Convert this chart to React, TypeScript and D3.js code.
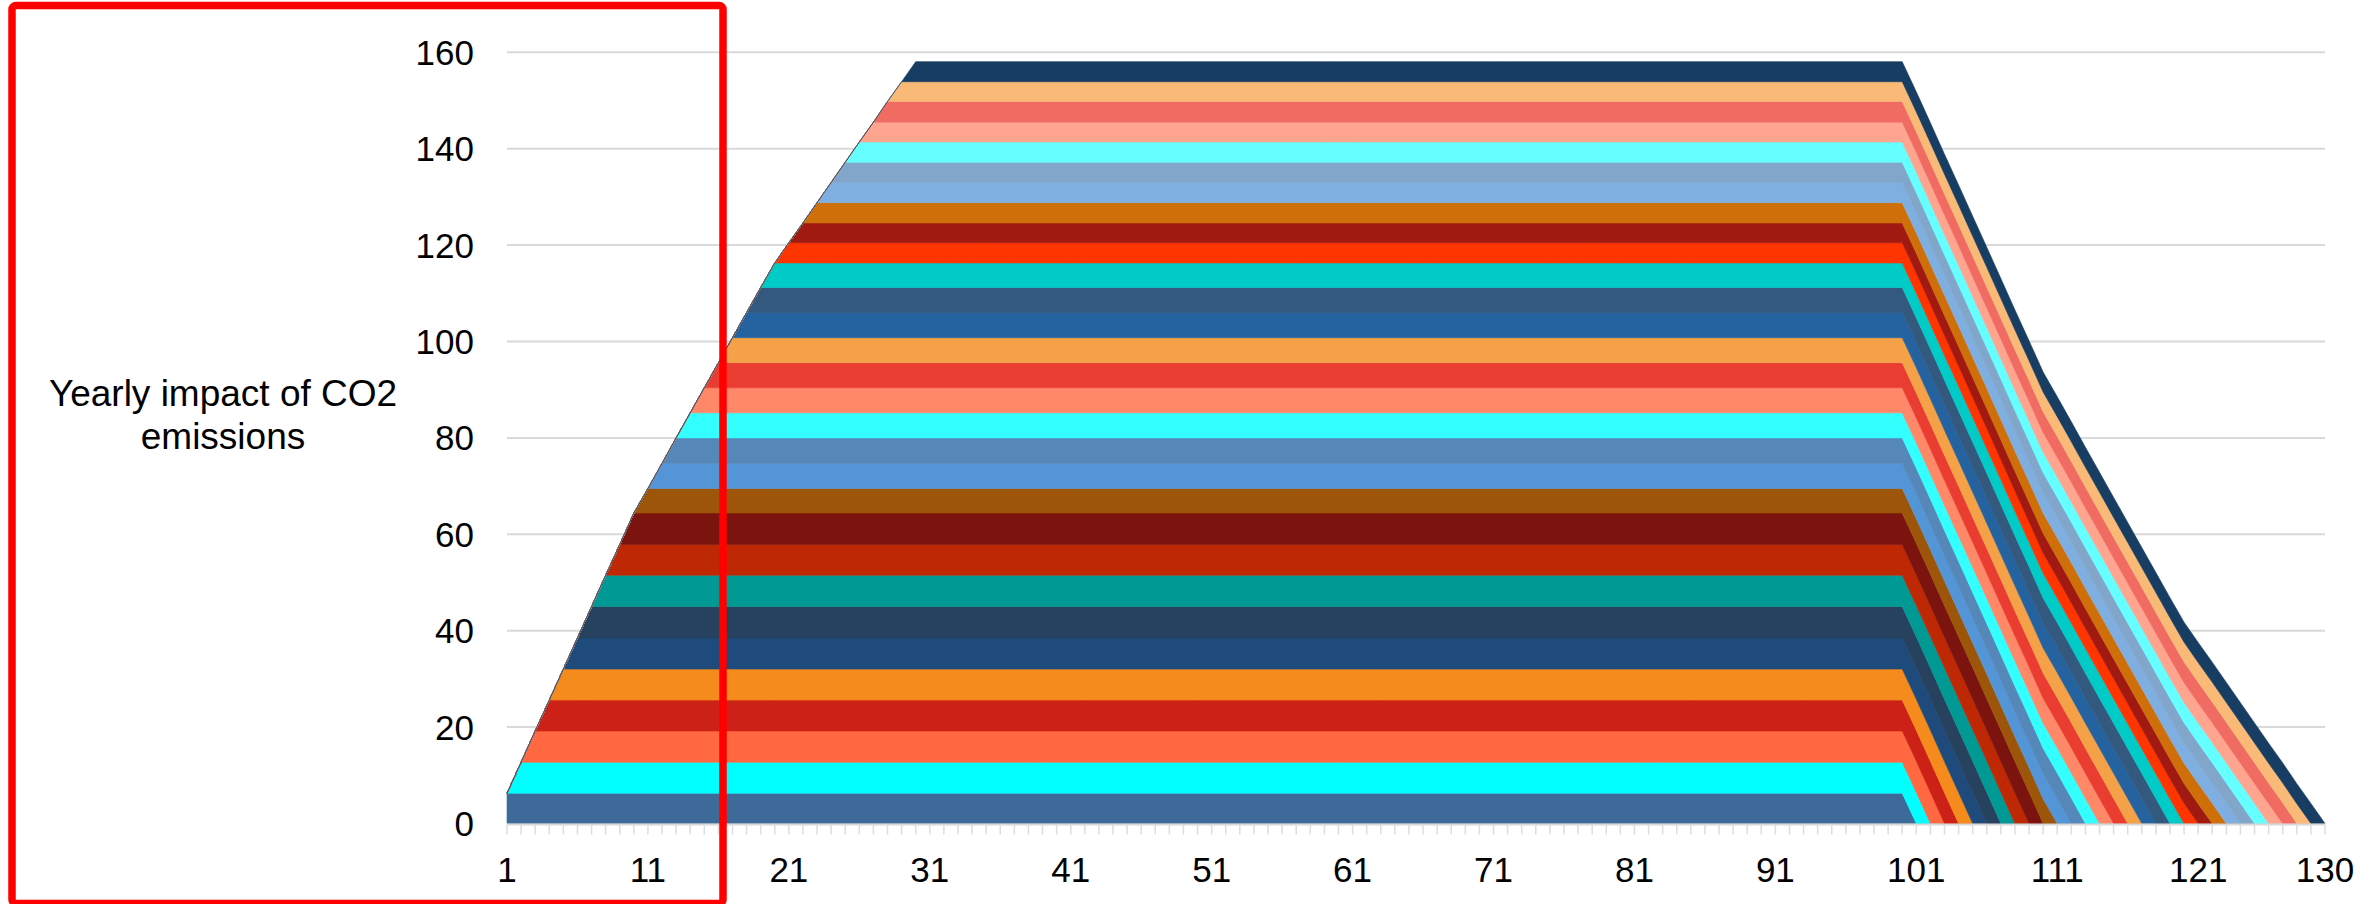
import React from "react";
import * as d3 from "d3";

// ---- data ----
const categories: number[] = d3.range(1, 131); // 1..130
const xTickLabels: number[] = [1, 11, 21, 31, 41, 51, 61, 71, 81, 91, 101, 111, 121, 130];
const yTicks: number[] = [0, 20, 40, 60, 80, 100, 120, 140, 160];

// each series: yearly value, first category with value, last category with value
const seriesValue: number[] = [
  6.27, 6.43, 6.5, 6.4, 6.45, 6.45, 6.5, 6.5, 6.4, 6.5,
  5.1, 5.2, 5.3, 5.2, 5.2, 5.2, 5.2, 5.2, 5.2, 5.1,
  4.2, 4.1, 4.2, 4.2, 4.2, 4.2, 4.1, 4.3, 4.1, 4.16,
];
const seriesStart: number[] = [
  1, 2, 3, 4, 5, 6, 7, 8, 9, 10, 11, 12, 13, 14, 15,
  16, 17, 18, 19, 20, 21, 22, 23, 24, 25, 26, 27, 28, 29, 30,
];
const seriesEnd: number[] = [
  100, 101, 102, 103, 104, 105, 106, 107, 108, 109, 110, 111, 112, 113, 114,
  115, 116, 117, 118, 119, 120, 121, 122, 123, 124, 125, 126, 127, 128, 129,
];
const seriesColors: string[] = [
  "#3D6A99", "#00FFFF", "#FF6841", "#CC2116", "#F58B1C",
  "#1E4B7B", "#26425F", "#009994", "#BE2804", "#7B130E",
  "#9C5509", "#5395D7", "#5588B9", "#33FFFF", "#FF8869",
  "#EA3D31", "#F5A148", "#2563A0", "#33597E", "#00CBC7",
  "#FF3500", "#A11A12", "#CF6F0A", "#7FAFE0", "#81A6CA",
  "#66FFFF", "#FFA48F", "#F06C63", "#F9BA77", "#183D63",
];
const yTitle: string[] = ["Yearly impact of CO2", "emissions"];

const W = 2369;
const H = 904;
const FONT = "'Liberation Sans', Arial, Helvetica, sans-serif";

export default function App() {
  const keys = seriesValue.map((_, i) => "s" + i);
  const table = categories.map((c) => {
    const row: Record<string, number> = { cat: c };
    seriesValue.forEach((v, i) => {
      row["s" + i] = c >= seriesStart[i] && c <= seriesEnd[i] ? v : 0;
    });
    return row;
  });
  const stacked = d3.stack<Record<string, number>>().keys(keys)(table);

  const x = d3.scaleLinear().domain([1, 130]).range([507, 2325]);
  const y = d3.scaleLinear().domain([0, 160]).range([823.5, 52.3]);

  const area = d3
    .area<d3.SeriesPoint<Record<string, number>>>()
    .x((d) => x(d.data.cat))
    .y0((d) => y(d[0]))
    .y1((d) => y(d[1]));

  const x0 = x(1);
  const x1 = x(130);
  const y0 = y(0);

  return (
    <svg
      width={W}
      height={H}
      style={{ position: "absolute", left: 0, top: 0, background: "#fff" }}
      fontFamily={FONT}
    >
      <rect x={0} y={0} width={W} height={H} fill="#fff" />
      {/* gridlines */}
      {yTicks.filter((t) => t > 0).map((t) => (
        <line key={"g" + t} x1={x0} x2={x1} y1={y(t)} y2={y(t)} stroke="#D9D9D9" strokeWidth={2} />
      ))}
      {/* areas */}
      {stacked.map((s, i) => (
        <path
          key={s.key}
          d={area(s) || ""}
          fill={seriesColors[i]}
          stroke={seriesColors[i]}
          strokeWidth={0.6}
          strokeLinejoin="miter"
        />
      ))}
      {/* x axis line */}
      <line x1={x0} x2={x1} y1={y0 + 1} y2={y0 + 1} stroke="#D9D9D9" strokeWidth={2} />
      {categories.map((c) => (
        <line key={"t" + c} x1={x(c)} x2={x(c)} y1={y0 + 1} y2={y0 + 11} stroke="#DDDDDD" strokeWidth={1.5} />
      ))}
      {/* y tick labels */}
      {yTicks.map((t) => (
        <text key={"yl" + t} x={474} y={y(t)} textAnchor="end" dominantBaseline="central" fontSize={35} fill="#000">
          {t}
        </text>
      ))}
      {/* x tick labels */}
      {xTickLabels.map((c) => (
        <text key={"xl" + c} x={x(c)} y={882} textAnchor="middle" fontSize={35} fill="#000">
          {c}
        </text>
      ))}
      {/* y axis title */}
      <text x={223} y={406} textAnchor="middle" fontSize={37} fill="#000">
        <tspan x={223} y={406}>{yTitle[0]}</tspan>
        <tspan x={223} y={449}>{yTitle[1]}</tspan>
      </text>
      {/* red highlight box */}
      <rect x={12} y={5.5} width={711} height={898} rx={4} ry={4} fill="none" stroke="#FF0000" strokeWidth={7.5} />
    </svg>
  );
}
